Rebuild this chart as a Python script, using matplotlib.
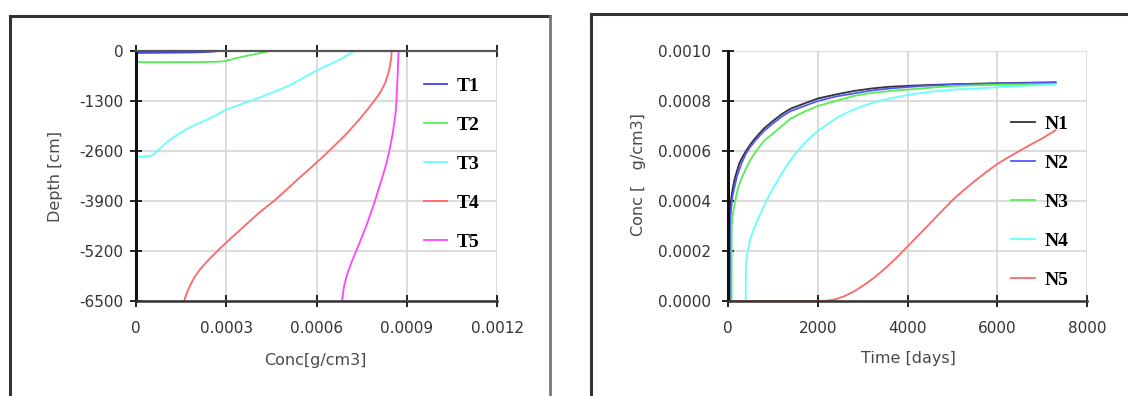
''' depth profiles and breakthrough curves '''
import matplotlib
import matplotlib.pyplot as plt
from matplotlib.lines import Line2D

matplotlib.use('Agg')

# ---- left panel: concentration profiles with depth ----
t1_conc = [0, 0.0001, 0.0002, 0.00025, 0.000276]
t1_depth = [-50, -45, -35, -20, 0]

t2_conc = [0, 0.0001, 0.0002, 0.00026, 0.00029, 0.00031, 0.00033, 0.00036,
           0.0004, 0.000445]
t2_depth = [-290, -290, -288, -282, -270, -235, -190, -140, -75, 0]

t3_conc = [0, 0.000047, 0.00006, 0.000071, 0.000088, 0.000107, 0.000135,
           0.000166, 0.0002, 0.000237, 0.00027, 0.0003, 0.00034, 0.00038,
           0.00044, 0.000498, 0.00055, 0.000599, 0.00064, 0.000676,
           0.0007, 0.000725]
t3_depth = [-2755, -2729, -2680, -2600, -2470, -2342, -2190,
            -2040, -1905, -1782, -1650, -1524, -1410, -1300,
            -1120, -938, -730, -508, -360, -232, -120, 0]

t4_conc = [0.00016, 0.000166, 0.000174, 0.000186, 0.000197, 0.000215,
           0.000245, 0.000278, 0.000318, 0.000362, 0.00041, 0.00046,
           0.000501, 0.000543, 0.000588, 0.000628, 0.00067, 0.000706,
           0.000742, 0.000772, 0.000795, 0.000814, 0.000828, 0.000838,
           0.000844, 0.000848, 0.00085]
t4_depth = [-6500, -6350, -6200, -6000, -5850, -5656,
            -5400, -5140, -4850, -4537, -4200, -3891,
            -3600, -3300, -2987, -2700, -2385, -2100,
            -1782, -1500, -1265, -1050, -835, -600,
            -400, -200, 0]

t5_conc = [0.000685, 0.000688, 0.000692, 0.000701, 0.000716, 0.000732,
           0.00075, 0.000766, 0.000781, 0.000794, 0.00081, 0.000822,
           0.000833, 0.000842, 0.000851, 0.000858, 0.000863, 0.000866,
           0.000868, 0.00087, 0.000871, 0.000873]
t5_depth = [-6500, -6300, -6100, -5830, -5500, -5200,
            -4850, -4537, -4200, -3900, -3505, -3200,
            -2900, -2600, -2250, -1900, -1600, -1265,
            -900, -600, -300, 0]

# ---- right panel: concentration against time ----
n1_days = [0, 44, 46, 60, 80, 110, 150, 200, 250, 320, 400, 500, 600, 800,
           1000, 1200, 1400, 1700, 2000, 2400, 2800, 3200, 3600, 4300, 5000,
           6000, 7300]
n1_conc = [0, 0, 0.00035, 0.00039, 0.00042, 0.000455, 0.00049, 0.00052,
           0.00055, 0.000575, 0.0006, 0.000627, 0.00065, 0.00069, 0.00072,
           0.000748, 0.00077, 0.00079, 0.00081, 0.000826, 0.00084, 0.00085,
           0.000857, 0.000863, 0.000867, 0.000871, 0.000875]

n2_days = [0, 50, 52, 75, 100, 150, 200, 300, 400, 500, 600, 800, 1000, 1200,
           1400, 1700, 2000, 2400, 2800, 3200, 3600, 4300, 5000, 6000, 7300]
n2_conc = [0, 0, 0.00033, 0.00038, 0.00042, 0.00046, 0.0005, 0.00055,
           0.00059, 0.000617, 0.00064, 0.00068, 0.00071, 0.000738, 0.00076,
           0.00078, 0.0008, 0.000818, 0.00083, 0.000842, 0.00085, 0.00086,
           0.000865, 0.00087, 0.000873]

n3_days = [0, 80, 82, 110, 160, 220, 300, 400, 500, 630, 800, 1000, 1200,
           1400, 1700, 2000, 2400, 2800, 3200, 3600, 4300, 5000, 6000, 7300]
n3_conc = [0, 0, 0.0003, 0.00035, 0.0004, 0.00045, 0.00049, 0.00053,
           0.000565, 0.0006, 0.00064, 0.00067, 0.0007, 0.00073, 0.000757,
           0.00078, 0.0008, 0.00082, 0.000832, 0.00084, 0.00085, 0.00086,
           0.000865, 0.000868]

n4_days = [0, 395, 400, 430, 500, 570, 650, 750, 850, 970, 1100, 1300, 1500,
           1750, 2000, 2250, 2500, 2750, 3000, 3300, 3600, 4000, 4500, 5000,
           5500, 6500, 7300]
n4_conc = [0, 0, 0.00014, 0.00019, 0.00025, 0.000285, 0.00032, 0.00036,
           0.0004, 0.00044, 0.00048, 0.00054, 0.00059, 0.00064, 0.00068,
           0.000712, 0.00074, 0.000762, 0.00078, 0.000797, 0.00081,
           0.000824, 0.000837, 0.000845, 0.00085, 0.00086, 0.000866]

n5_days = [0, 2000, 2200, 2400, 2600, 2800, 3000, 3250, 3500, 3750, 4000,
           4250, 4500, 4750, 5000, 5250, 5500, 5750, 6000, 6250, 6500, 6750,
           7000, 7300]
n5_conc = [0, 0, 0.000001, 0.000007, 0.00002, 0.000038, 0.00006, 0.000092,
           0.00013, 0.000172, 0.000218, 0.000264, 0.00031, 0.000357,
           0.000403, 0.000443, 0.00048, 0.000515, 0.000548, 0.000575,
           0.000601, 0.000626, 0.00065, 0.000683]

left_xticks = [0, 0.0003, 0.0006, 0.0009, 0.0012]
left_xlabels = ['0', '0.0003', '0.0006', '0.0009', '0.0012']
left_yticks = [0, -1300, -2600, -3900, -5200, -6500]
right_xticks = [0, 2000, 4000, 6000, 8000]
right_yticks = [0, 0.0002, 0.0004, 0.0006, 0.0008, 0.0010]

W, H = 1128, 396
TICK_FONT = {'family': 'DejaVu Sans', 'size': 11}
LAB_FONT = {'family': 'DejaVu Sans', 'size': 11.5}
LEG_FONT = {'family': 'Liberation Serif', 'weight': 'bold', 'size': 14}
GRID = '#d9d9d9'


def px_rect(x0, x1, y_top, y_bot):
    ''' pixel box -> figure fraction rect '''
    return [x0 / W, 1 - y_bot / H, (x1 - x0) / W, (y_bot - y_top) / H]


def style_axes(ax):
    ''' common tick styling '''
    ax.tick_params(direction='inout', length=8.5, width=1.4, colors='#222222',
                   labelcolor='#333333')
    for lab in ax.get_xticklabels() + ax.get_yticklabels():
        lab.set_fontfamily(TICK_FONT['family'])
        lab.set_fontsize(TICK_FONT['size'])
    ax.grid(True, color=GRID, linewidth=1.3)
    ax.set_axisbelow(True)


def main():
    ''' draw both panels '''
    fig = plt.figure(figsize=(W / 100, H / 100), dpi=100)

    # outer frames
    fc = '#333333'
    fig.add_artist(Line2D([10 / W, 10 / W], [-0.1, 1 - 16 / H],
                          transform=fig.transFigure, color=fc, lw=2.2))
    fig.add_artist(Line2D([10 / W, 550 / W], [1 - 16 / H, 1 - 16 / H],
                          transform=fig.transFigure, color=fc, lw=2.2))
    fig.add_artist(Line2D([550 / W, 550 / W], [-0.1, 1 - 16 / H],
                          transform=fig.transFigure, color='#777777', lw=2))
    fig.add_artist(Line2D([591 / W, 591 / W], [-0.1, 1 - 14 / H],
                          transform=fig.transFigure, color=fc, lw=2.2))
    fig.add_artist(Line2D([591 / W, 1.1], [1 - 14 / H, 1 - 14 / H],
                          transform=fig.transFigure, color=fc, lw=2.2))

    # left panel
    ax1 = fig.add_axes(px_rect(136, 497, 51, 301))
    ax1.plot(t1_conc, t1_depth, color='#4444ee', lw=1.3, label='T1')
    ax1.plot(t2_conc, t2_depth, color='#55ee55', lw=1.3, label='T2')
    ax1.plot(t3_conc, t3_depth, color='#66ffff', lw=1.3, label='T3')
    ax1.plot(t4_conc, t4_depth, color='#ff6666', lw=1.3, label='T4')
    ax1.plot(t5_conc, t5_depth, color='#ff44ff', lw=1.3, label='T5')
    ax1.set_xlim(0, 0.0012)
    ax1.set_ylim(-6500, 0)
    ax1.set_xticks(left_xticks)
    ax1.set_xticklabels(left_xlabels)
    ax1.set_yticks(left_yticks)
    ax1.set_yticklabels([str(v) for v in left_yticks])
    ax1.spines['right'].set_visible(False)
    ax1.spines['left'].set_linewidth(2.2)
    ax1.spines['left'].set_color('#111111')
    ax1.spines['top'].set_linewidth(1.6)
    ax1.spines['top'].set_color('#555555')
    ax1.spines['bottom'].set_linewidth(1.8)
    ax1.spines['bottom'].set_color('#333333')
    style_axes(ax1)
    ax1.tick_params(axis='x', top=True, labeltop=False, pad=10)
    ax1.tick_params(axis='y', pad=5)
    ax1.set_xlabel('Conc[g/cm3]', fontdict=LAB_FONT, color='#4a4a4a')
    ax1.set_ylabel('Depth [cm]', fontdict=LAB_FONT, color='#4a4a4a')
    ax1.xaxis.set_label_coords(0.496, -0.24)
    ax1.xaxis.label.set_va('center')
    ax1.yaxis.set_label_coords(-0.224, 0.5)
    ax1.yaxis.label.set_va('center')
    ax1.legend(loc='upper left', bbox_to_anchor=(0.797, 0.894), frameon=False,
               prop=LEG_FONT, handlelength=1.2, handletextpad=0.5,
               labelspacing=1.1, borderaxespad=0, borderpad=0)

    # right panel
    ax2 = fig.add_axes(px_rect(728, 1087, 51, 301))
    ax2.plot(n1_days, n1_conc, color='#333333', lw=1.3, label='N1')
    ax2.plot(n2_days, n2_conc, color='#5555ff', lw=1.3, label='N2')
    ax2.plot(n3_days, n3_conc, color='#55ee55', lw=1.3, label='N3')
    ax2.plot(n4_days, n4_conc, color='#66ffff', lw=1.3, label='N4')
    ax2.plot(n5_days, n5_conc, color='#ff6666', lw=1.3, label='N5')
    ax2.set_xlim(0, 8000)
    ax2.set_ylim(0, 0.0010)
    ax2.set_xticks(right_xticks)
    ax2.set_xticklabels([str(v) for v in right_xticks])
    ax2.set_yticks(right_yticks)
    ax2.set_yticklabels([f'{v:.4f}' for v in right_yticks])
    ax2.spines['right'].set_visible(False)
    ax2.spines['top'].set_visible(False)
    ax2.spines['left'].set_linewidth(2.2)
    ax2.spines['left'].set_color('#111111')
    ax2.spines['bottom'].set_linewidth(1.8)
    ax2.spines['bottom'].set_color('#333333')
    style_axes(ax2)
    ax2.tick_params(axis='x', pad=10)
    ax2.tick_params(axis='y', pad=8)
    ax2.set_xlabel('Time [days]', fontdict=LAB_FONT, color='#4a4a4a')
    ax2.set_ylabel('Conc [   g/cm3]', fontdict=LAB_FONT, color='#4a4a4a')
    ax2.xaxis.set_label_coords(0.503, -0.232)
    ax2.xaxis.label.set_va('center')
    ax2.yaxis.set_label_coords(-0.25, 0.504)
    ax2.yaxis.label.set_va('center')
    ax2.legend(loc='upper left', bbox_to_anchor=(0.789, 0.744), frameon=False,
               prop=LEG_FONT, handlelength=1.2, handletextpad=0.5,
               labelspacing=1.1, borderaxespad=0, borderpad=0)

    fig.savefig('out.png', dpi=100, facecolor='white')


if __name__ == '__main__':
    main()
